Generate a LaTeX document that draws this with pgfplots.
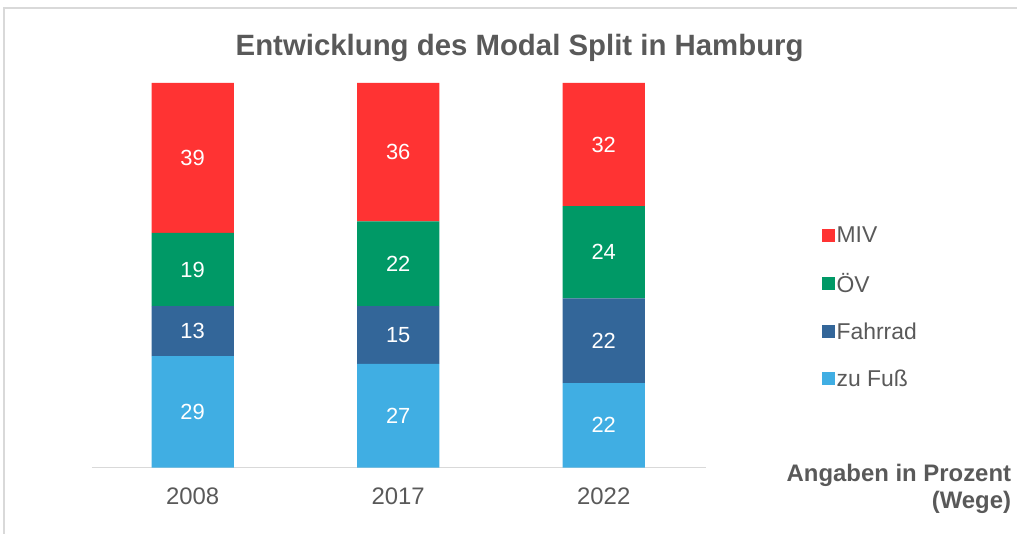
\documentclass[border=0pt]{standalone}
\usepackage{pgfplots}
\pgfplotsset{compat=1.18}
\usepackage{fontspec}
\setmainfont{Liberation Sans}
\definecolor{txt}{HTML}{595959}
\definecolor{cmiv}{HTML}{FF3333}
\definecolor{coev}{HTML}{009966}
\definecolor{crad}{HTML}{336699}
\definecolor{cfuss}{HTML}{40AEE3}
\definecolor{frame}{HTML}{D9D9D9}
\begin{document}
\begin{tikzpicture}[x=1bp,y=1bp]
\path (0,0) rectangle (1018,534);
\draw[frame, line width=1.5bp] (4,0) -- (4,526) -- (1018,526);
\begin{axis}[
  at={(92bp,66bp)}, anchor=south west,
  scale only axis, width=615bp, height=385bp,
  ybar stacked, bar width=0.4,
  xmin=-0.49, xmax=2.5, ymin=0, ymax=100,
  axis y line=none, axis x line*=bottom,
  x axis line style={frame, line width=1.5bp, -},
  xtick=data, xticklabels={2008,2017,2022},
  major tick length=0pt,
  xticklabel style={font=\fontsize{24}{28}\selectfont, text=txt, yshift=-17bp},
  /pgf/number format/assume math mode=true,
  every node near coord/.append style={font=\fontsize{22}{26}\selectfont, text=white, anchor=center},
  nodes near coords,
  clip=false,
  reverse legend,
  legend style={at={(1.187,0.417)}, anchor=west, draw=none, fill=none,
    font=\fontsize{23}{27}\selectfont, text=txt, row sep=25bp,
    inner sep=0pt, nodes={inner sep=2bp}},
  legend cell align=left,
  legend image code/.code={\fill[#1] (0bp,-6.5bp) rectangle (13bp,6.5bp);},
]
\addplot[fill=cfuss, draw=none] coordinates {(0,29) (1,27) (2,22)};
\addplot[fill=crad, draw=none] coordinates {(0,13) (1,15) (2,22)};
\addplot[fill=coev, draw=none] coordinates {(0,19) (1,22) (2,24)};
\addplot[fill=cmiv, draw=none] coordinates {(0,39) (1,36) (2,32)};
\legend{zu Fuß, Fahrrad, ÖV, MIV}
\end{axis}
\node[font=\bfseries\fontsize{29.5}{33}\selectfont, text=txt] at (520,486) {Entwicklung des Modal Split in Hamburg};
\node[font=\bfseries\fontsize{24}{27}\selectfont, text=txt, align=right, anchor=north east, inner sep=0pt] at (1012,70) {Angaben in Prozent\\(Wege)};
\end{tikzpicture}
\end{document}
